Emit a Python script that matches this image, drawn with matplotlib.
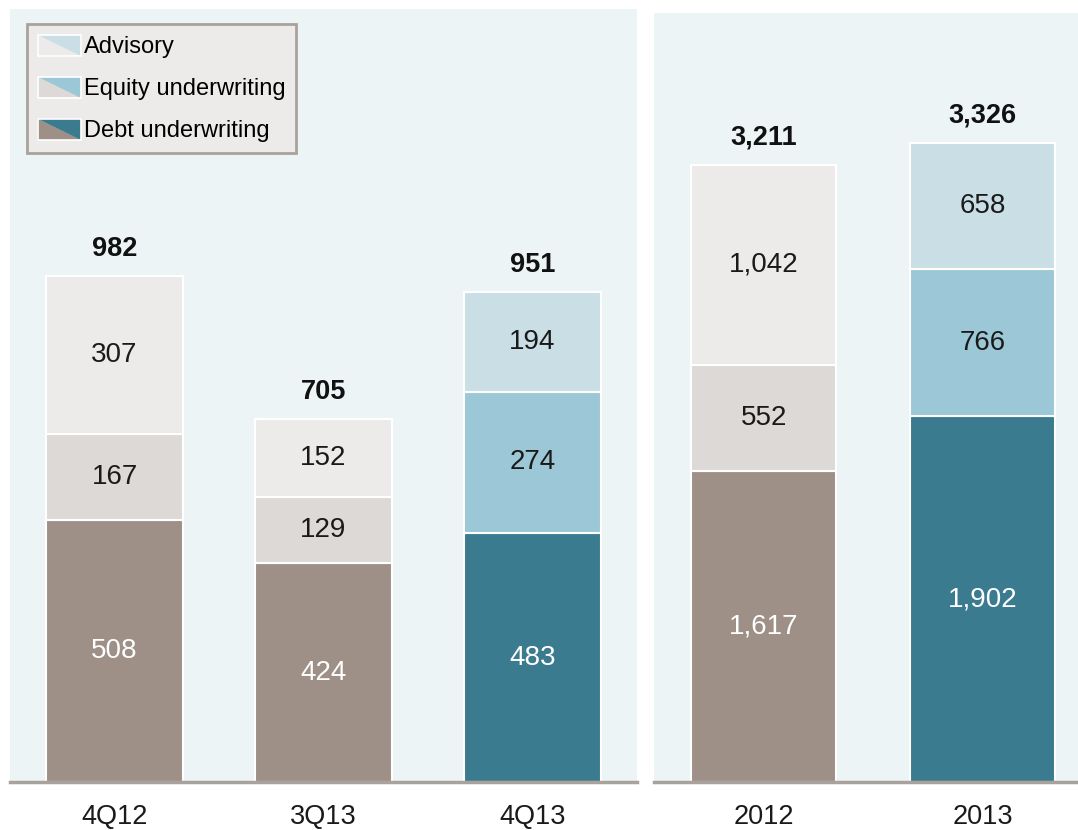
import matplotlib
matplotlib.use('Agg')
import matplotlib.pyplot as plt
from matplotlib.patches import Polygon, Patch
from matplotlib.legend_handler import HandlerBase
import numpy as np

plt.rcParams['font.family'] = ['Liberation Sans', 'DejaVu Sans']

# data
quarters = ['4Q12', '3Q13', '4Q13']
debt_q = [508, 424, 483]
equity_q = [167, 129, 274]
advisory_q = [307, 152, 194]
total_q = [982, 705, 951]

years = ['2012', '2013']
debt_y = [1617, 1902]
equity_y = [552, 766]
advisory_y = [1042, 658]
total_y = [3211, 3326]

series_names = ['Advisory', 'Equity underwriting', 'Debt underwriting']

# colours: (old grey style, new blue style)
col_debt = ('#9E9087', '#3B7B8F')
col_equity = ('#DDD9D6', '#9BC7D6')
col_adv = ('#EDEBE9', '#C9DFE5')
bg = '#ECF4F6'
axis_grey = '#A9A19C'


class SplitHandler(HandlerBase):
    def __init__(self, c_low, c_up):
        super().__init__()
        self.c_low = c_low
        self.c_up = c_up

    def create_artists(self, legend, orig_handle, xdescent, ydescent,
                       width, height, fontsize, trans):
        x0, y0 = -xdescent, -ydescent
        low = Polygon([[x0, y0], [x0, y0 + height], [x0 + width, y0]],
                      closed=True, facecolor=self.c_low, edgecolor='none',
                      transform=trans)
        up = Polygon([[x0, y0 + height], [x0 + width, y0 + height], [x0 + width, y0]],
                     closed=True, facecolor=self.c_up, edgecolor='none',
                     transform=trans)
        frame = Polygon([[x0, y0], [x0, y0 + height], [x0 + width, y0 + height],
                         [x0 + width, y0]], closed=True, facecolor='none',
                        edgecolor='white', lw=1.2, transform=trans)
        return [low, up, frame]


def draw_panel(ax, labels, debt, equity, adv, total, ymax, xmax):
    x = np.arange(len(labels))
    n = len(labels)
    w = 0.66
    for i in range(n):
        k = 1 if i == n - 1 else 0
        ax.bar(x[i], debt[i], w, color=col_debt[k], edgecolor='white', lw=1.5)
        ax.bar(x[i], equity[i], w, bottom=debt[i], color=col_equity[k],
               edgecolor='white', lw=1.5)
        ax.bar(x[i], adv[i], w, bottom=debt[i] + equity[i], color=col_adv[k],
               edgecolor='white', lw=1.5)
        ax.text(x[i], debt[i] / 2, f'{debt[i]:,}', ha='center', va='center',
                fontsize=20, color='white')
        ax.text(x[i], debt[i] + equity[i] / 2, f'{equity[i]:,}', ha='center',
                va='center', fontsize=20, color='#1a1a1a')
        ax.text(x[i], debt[i] + equity[i] + adv[i] / 2, f'{adv[i]:,}', ha='center',
                va='center', fontsize=20, color='#1a1a1a')
        ax.annotate(f'{total[i]:,}', (x[i], total[i]), xytext=(0, 10),
                    textcoords='offset points', ha='center', va='bottom',
                    fontsize=19.5, fontweight='bold', color='#111111')
    ax.set_facecolor(bg)
    ax.set_xlim(-0.5, xmax)
    ax.set_ylim(0, ymax)
    ax.set_xticks(x)
    ax.set_xticklabels(labels, fontsize=19.5, color='#1a1a1a')
    ax.tick_params(axis='x', length=0, pad=16)
    ax.set_yticks([])
    for s in ['top', 'left', 'right']:
        ax.spines[s].set_visible(False)
    ax.spines['bottom'].set_color(axis_grey)
    ax.spines['bottom'].set_linewidth(2.5)


fig = plt.figure(figsize=(10.78, 8.30), dpi=100)
ax1 = fig.add_axes([10 / 1078, 48 / 830, 627 / 1078, 773 / 830])
ax2 = fig.add_axes([654 / 1078, 48 / 830, 424 / 1078, 769 / 830])

draw_panel(ax1, quarters, debt_q, equity_q, advisory_q, total_q, 1500, 2.5)
draw_panel(ax2, years, debt_y, equity_y, advisory_y, total_y, 4000, 1.435)

handles = [Patch(), Patch(), Patch()]
handler_map = {
    handles[0]: SplitHandler(col_adv[0], col_adv[1]),
    handles[1]: SplitHandler(col_equity[0], col_equity[1]),
    handles[2]: SplitHandler(col_debt[0], col_debt[1]),
}
leg = ax1.legend(handles, series_names, handler_map=handler_map,
                 loc='upper left', bbox_to_anchor=(27 / 1078, 1 - 24 / 830),
                 bbox_transform=fig.transFigure, borderaxespad=0,
                 fontsize=17, fancybox=False, frameon=True,
                 handlelength=1.85, handleheight=1.0, handletextpad=0.1,
                 labelspacing=0.78, borderpad=0.45)
leg.get_frame().set_facecolor('#EDEBE9')
leg.get_frame().set_edgecolor(axis_grey)
leg.get_frame().set_linewidth(2)
leg.get_frame().set_alpha(1)

fig.savefig('out.png', dpi=100)
